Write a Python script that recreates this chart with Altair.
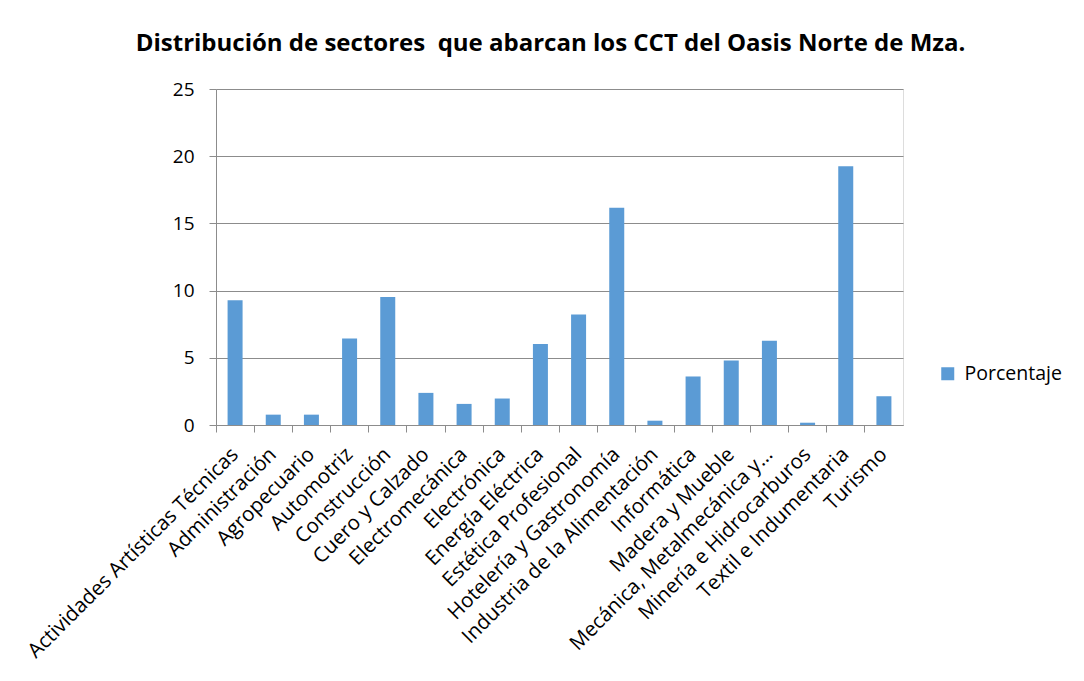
import altair as alt
import pandas as pd

sectores = [
    "Actividades Artísticas Técnicas", "Administración", "Agropecuario", "Automotriz",
    "Construcción", "Cuero y Calzado", "Electromecánica", "Electrónica",
    "Energía Eléctrica", "Estética Profesional", "Hotelería y Gastronomía",
    "Industria de la Alimentación", "Informática", "Madera y Mueble",
    "Mecánica, Metalmecánica y…", "Minería e Hidrocarburos", "Textil e Indumentaria", "Turismo",
]
porcentaje = [9.28, 0.77, 0.77, 6.44, 9.53, 2.39, 1.57, 1.97, 6.02, 8.23, 16.17,
              0.32, 3.61, 4.80, 6.27, 0.17, 19.25, 2.14]
serie = ["Porcentaje"] * len(sectores)

df = pd.DataFrame({"Sector": sectores, "Valor": porcentaje, "Serie": serie})

FONT = "Open Sans"

chart = alt.Chart(df).mark_bar(size=15, color="#5B9BD5").encode(
    x=alt.X("Sector:N", sort=sectores, title=None,
            scale=alt.Scale(paddingInner=0, paddingOuter=0),
            axis=alt.Axis(labelAngle=-45, labelAlign="right", labelBaseline="middle",
                          labelFontSize=20.5, labelColor="#000000", labelFont=FONT,
                          labelPadding=19, tickSize=7, tickColor="#8c8c8c",
                          bandPosition=0, domainColor="#8c8c8c", grid=False,
                          labelLimit=400, labelOverlap=False)),
    y=alt.Y("Valor:Q", title=None,
            scale=alt.Scale(domain=[0, 25], nice=False),
            axis=alt.Axis(values=[0, 5, 10, 15, 20, 25], labelFontSize=19,
                          labelColor="#000000", labelFont=FONT, tickSize=7,
                          tickColor="#8c8c8c", labelPadding=15, domainColor="#8c8c8c",
                          gridColor="#8c8c8c", gridWidth=1.2)),
    color=alt.Color("Serie:N", scale=alt.Scale(range=["#5B9BD5"]),
                    legend=alt.Legend(title=None, orient="none", legendX=722, legendY=275,
                                      symbolType="square", symbolSize=169,
                                      symbolStrokeWidth=0, labelFontSize=19.5,
                                      labelFont=FONT, labelColor="#000000",
                                      labelOffset=7)),
).properties(
    width=687, height=336,
    title=alt.TitleParams(
        "Distribución de sectores\u00a0\u00a0que abarcan los CCT del Oasis Norte de Mza.",
        fontSize=24, font=FONT, fontWeight="bold", color="#000000",
        anchor="middle", baseline="alphabetic", offset=5, dx=-9,
    ),
    autosize=alt.AutoSizeParams(type="none"),
    padding={"left": 208, "top": 81, "right": 165, "bottom": 243},
).configure_view(stroke="#555555", strokeWidth=1).configure(background="white")

chart.save("out.html", embed_options={"renderer": "svg", "actions": False})
